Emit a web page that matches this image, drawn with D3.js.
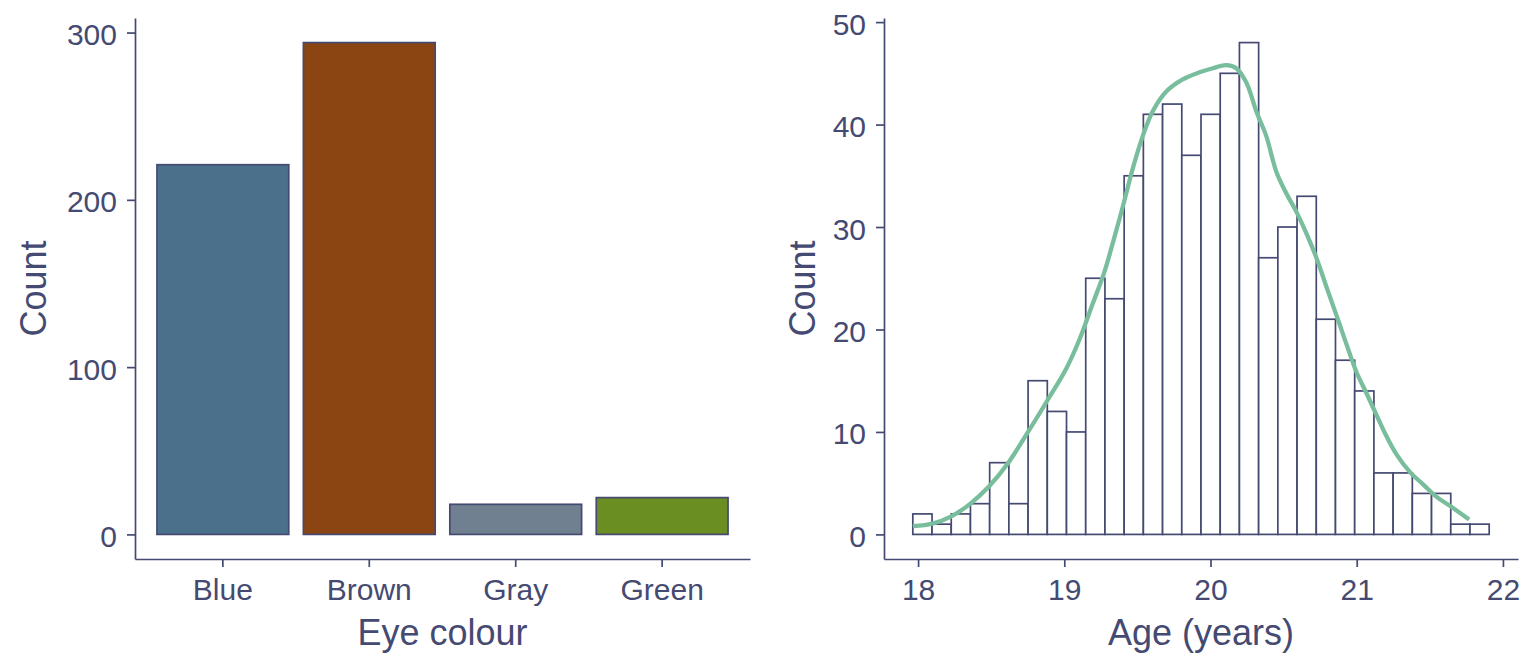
<!DOCTYPE html>
<html>
<head>
    <meta charset="utf-8">
    <title>Eye colour and age</title>
    <script src="https://d3js.org/d3.v7.min.js"></script>
    <style>
        body, html {
            margin: 0;
            padding: 0;
            background: #ffffff;
        }
        svg text {
            font-family: 'Liberation Sans', Arial, sans-serif;
            fill: #454a72;
        }
    </style>
</head>
<body>
<script>
    // ---- data ----
    const eyeColours = ["Blue", "Brown", "Gray", "Green"];
    const eyeCounts = [221, 294, 18, 22];

    // histogram of age, 30 bins
    const ageBinStart = 17.964;
    const ageBinWidth = 0.1314;
    const ageCounts = [2, 1, 2, 3, 7, 3, 15, 12, 10, 25, 23, 35, 41, 42, 37,
                       41, 45, 48, 27, 30, 33, 21, 17, 14, 6, 6, 4, 4, 1, 1];

    // smoothed density curve (scaled to counts)
    const curveAge = [17.964, 18.098, 18.224, 18.354, 18.486, 18.616, 18.749, 18.884, 19.014,
                      19.103, 19.194, 19.274, 19.331, 19.404, 19.468, 19.536, 19.605, 19.696,
                      19.810, 19.925, 20.016, 20.108, 20.176, 20.245, 20.313, 20.382, 20.450,
                      20.518, 20.587, 20.655, 20.724, 20.792, 20.861, 20.929, 20.998, 21.066,
                      21.134, 21.203, 21.271, 21.363, 21.454, 21.546, 21.637, 21.769];
    const curveCount = [0.8, 1.05, 1.74, 2.96, 4.7, 6.97, 9.93, 13.07, 16.2,
                        19.0, 22.5, 25.6, 28.4, 32.2, 35.7, 38.85, 41.3, 43.2,
                        44.4, 45.1, 45.5, 45.8, 45.5, 44.1, 41.3, 38.85, 35.4,
                        33.3, 31.5, 29.4, 27.0, 24.2, 21.4, 18.6, 15.85, 13.8,
                        11.7, 9.6, 7.84, 6.1, 4.88, 3.66, 2.79, 1.45];

    const leftTicks = [0, 100, 200, 300];
    const rightYTicks = [0, 10, 20, 30, 40, 50];
    const rightXTicks = [18, 19, 20, 21, 22];

    // ---- styles ----
    const ink = "#454a72";
    const eyeFill = d3.scaleOrdinal()
        .domain(eyeColours)
        .range(["#4A708B", "#8B4513", "#708090", "#6B8E23"]);
    const curveColour = "#79be9c";

    const width = 1536, height = 672;
    const panelTop = 18, panelBottom = 559;
    const tickLen = 8;

    const svg = d3.select("body").append("svg")
        .attr("width", width)
        .attr("height", height)
        .attr("viewBox", [0, 0, width, height]);

    function styleAxis(g) {
        g.select(".domain").attr("stroke", ink).attr("stroke-width", 1.7);
        g.selectAll(".tick line").attr("stroke", ink).attr("stroke-width", 1.7);
        g.selectAll(".tick text")
            .attr("fill", ink)
            .style("font-size", "30px");
    }

    // ================= left: bar chart =================
    const L = {left: 135, right: 750};
    const maxEye = d3.max(eyeCounts);
    const xBand = d3.scaleBand()
        .domain(eyeColours)
        .range([L.left, L.right])
        .paddingInner(0.1)
        .paddingOuter(0.15);
    const yLeft = d3.scaleLinear()
        .domain([-maxEye * 0.05, maxEye * 1.05])
        .range([panelBottom, panelTop]);

    svg.append("g")
        .selectAll("rect")
        .data(eyeColours)
        .join("rect")
            .attr("x", d => xBand(d))
            .attr("width", xBand.bandwidth())
            .attr("y", (d, i) => yLeft(eyeCounts[i]))
            .attr("height", (d, i) => yLeft(0) - yLeft(eyeCounts[i]))
            .attr("fill", d => eyeFill(d))
            .attr("stroke", ink)
            .attr("stroke-width", 1.7);

    svg.append("g")
        .attr("transform", `translate(${L.left},0)`)
        .call(d3.axisLeft(yLeft).tickValues(leftTicks).tickSize(tickLen).tickSizeOuter(0).tickPadding(10))
        .call(styleAxis)
        .call(g => g.selectAll(".tick text").attr("dy", "12"));

    svg.append("g")
        .attr("transform", `translate(0,${panelBottom})`)
        .call(d3.axisBottom(xBand).tickSize(tickLen).tickSizeOuter(0).tickPadding(12))
        .call(styleAxis)
        .call(g => g.selectAll(".tick text").attr("dy", "0.7em"));

    svg.append("text")
        .attr("x", (L.left + L.right) / 2)
        .attr("y", 645)
        .attr("text-anchor", "middle")
        .style("font-size", "36px")
        .text("Eye colour");

    svg.append("text")
        .attr("transform", `translate(46,${(panelTop + panelBottom) / 2}) rotate(-90)`)
        .attr("text-anchor", "middle")
        .style("font-size", "36px")
        .text("Count");

    // ================= right: histogram =================
    const R = {left: 884, right: 1518};
    const ageEnd = ageBinStart + ageBinWidth * ageCounts.length;
    const ageSpan = ageEnd - ageBinStart;
    const xAge = d3.scaleLinear()
        .domain([ageBinStart - ageSpan * 0.05, ageEnd + ageSpan * 0.05])
        .range([R.left, R.right]);
    const maxAge = d3.max(ageCounts);
    const yRight = d3.scaleLinear()
        .domain([-maxAge * 0.05, maxAge * 1.05])
        .range([panelBottom, panelTop]);

    svg.append("g")
        .selectAll("rect")
        .data(ageCounts)
        .join("rect")
            .attr("x", (d, i) => xAge(ageBinStart + i * ageBinWidth))
            .attr("width", xAge(ageBinStart + ageBinWidth) - xAge(ageBinStart))
            .attr("y", d => yRight(d))
            .attr("height", d => yRight(0) - yRight(d))
            .attr("fill", "#ffffff")
            .attr("stroke", ink)
            .attr("stroke-width", 1.7);

    const curve = d3.line()
        .x((d, i) => xAge(curveAge[i]))
        .y(d => yRight(d))
        .curve(d3.curveCatmullRom);

    svg.append("path")
        .datum(curveCount)
        .attr("d", curve)
        .attr("fill", "none")
        .attr("stroke", curveColour)
        .attr("stroke-width", 4.3)
        .attr("stroke-linecap", "butt");

    svg.append("g")
        .attr("transform", `translate(${R.left},0)`)
        .call(d3.axisLeft(yRight).tickValues(rightYTicks).tickSize(tickLen).tickSizeOuter(0).tickPadding(10))
        .call(styleAxis)
        .call(g => g.selectAll(".tick text").attr("dy", "12"));

    svg.append("g")
        .attr("transform", `translate(0,${panelBottom})`)
        .call(d3.axisBottom(xAge).tickValues(rightXTicks).tickFormat(d3.format("d")).tickSize(tickLen).tickSizeOuter(0).tickPadding(12))
        .call(styleAxis)
        .call(g => g.selectAll(".tick text").attr("dy", "0.7em"));

    svg.append("text")
        .attr("x", (R.left + R.right) / 2)
        .attr("y", 645)
        .attr("text-anchor", "middle")
        .style("font-size", "36px")
        .text("Age (years)");

    svg.append("text")
        .attr("transform", `translate(815,${(panelTop + panelBottom) / 2}) rotate(-90)`)
        .attr("text-anchor", "middle")
        .style("font-size", "36px")
        .text("Count");
</script>
</body>
</html>
